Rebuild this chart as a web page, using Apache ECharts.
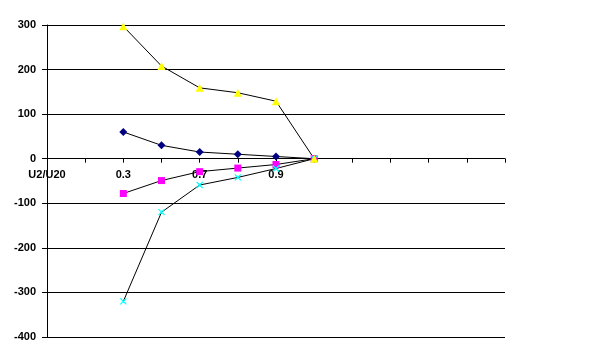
<!DOCTYPE html>
<html>
<head>
<meta charset="utf-8">
<script src="https://cdn.jsdelivr.net/npm/echarts@6/dist/echarts.min.js"></script>
<style>html,body{margin:0;padding:0;background:#fff}#c{width:615px;height:362px}</style>
</head>
<body>
<div id="c"></div>
<script>
var categories = ['U2/U20', '0.2', '0.3', '0.5', '0.7', '0.8', '0.9', '1.0', '', '', '', '', ''];
var seriesNavy = [null, null, 60, 30, 15, 10, 5, 0, null, null, null, null, null];
var seriesMagenta = [null, null, -78, -49, -29, -21, -13, 0, null, null, null, null, null];
var seriesCyan = [null, null, -320, -120, -59, -42, -22, 0, null, null, null, null, null];
var seriesYellow = [null, null, 297, 208, 159, 148, 129, 0, null, null, null, null, null];
var yTicks = {min: -400, max: 300, interval: 100};

var chart = echarts.init(document.getElementById('c'), null, {renderer: 'canvas'});
var font = {fontFamily: 'Liberation Sans', fontWeight: 'bold', fontSize: 11, color: '#000'};
function line(name, data, symbol, size, fill, border) {
  return {
    name: name, type: 'line', data: data, symbol: symbol, symbolSize: size,
    showAllSymbol: true, connectNulls: false, animation: false,
    lineStyle: {color: '#000', width: 1},
    itemStyle: {color: fill, borderColor: border || fill, borderWidth: border ? 1.2 : 0}
  };
}
var gridBottom = 25;
chart.setOption({
  backgroundColor: '#fff',
  animation: false,
  grid: {left: 47, right: 110, top: 25, bottom: gridBottom, containLabel: false},
  xAxis: {
    type: 'category', data: categories, boundaryGap: false, offset: 0,
    axisLine: {onZero: false, lineStyle: {color: '#000', width: 1}},
    axisTick: {show: true, interval: 0, length: 4, inside: false, lineStyle: {color: '#000'}},
    axisLabel: Object.assign({interval: 1, margin: 11}, font),
    splitLine: {show: false}
  },
  yAxis: {
    type: 'value', min: yTicks.min, max: yTicks.max, interval: yTicks.interval,
    axisLine: {show: true, lineStyle: {color: '#000', width: 1}},
    axisTick: {show: true, length: 5, lineStyle: {color: '#000'}},
    axisLabel: Object.assign({margin: 11}, font),
    splitLine: {show: true, lineStyle: {color: '#000', width: 1}}
  },
  series: [
    line('navy', seriesNavy, 'diamond', 8, '#000080'),
    line('magenta', seriesMagenta, 'rect', 7, '#FF00FF'),
    line('cyan', seriesCyan, 'path://M0 0L10 10M10 0L0 10', 6, 'none', '#00FFFF'),
    line('yellow', seriesYellow, 'triangle', 8, '#FFFF00')
  ]
});
// move the category axis (line, ticks, labels) up to the value 0 position
var zeroY = chart.convertToPixel({yAxisIndex: 0}, 0);
var minY = chart.convertToPixel({yAxisIndex: 0}, yTicks.min);
chart.setOption({xAxis: {offset: zeroY - minY}});
</script>
</body>
</html>
